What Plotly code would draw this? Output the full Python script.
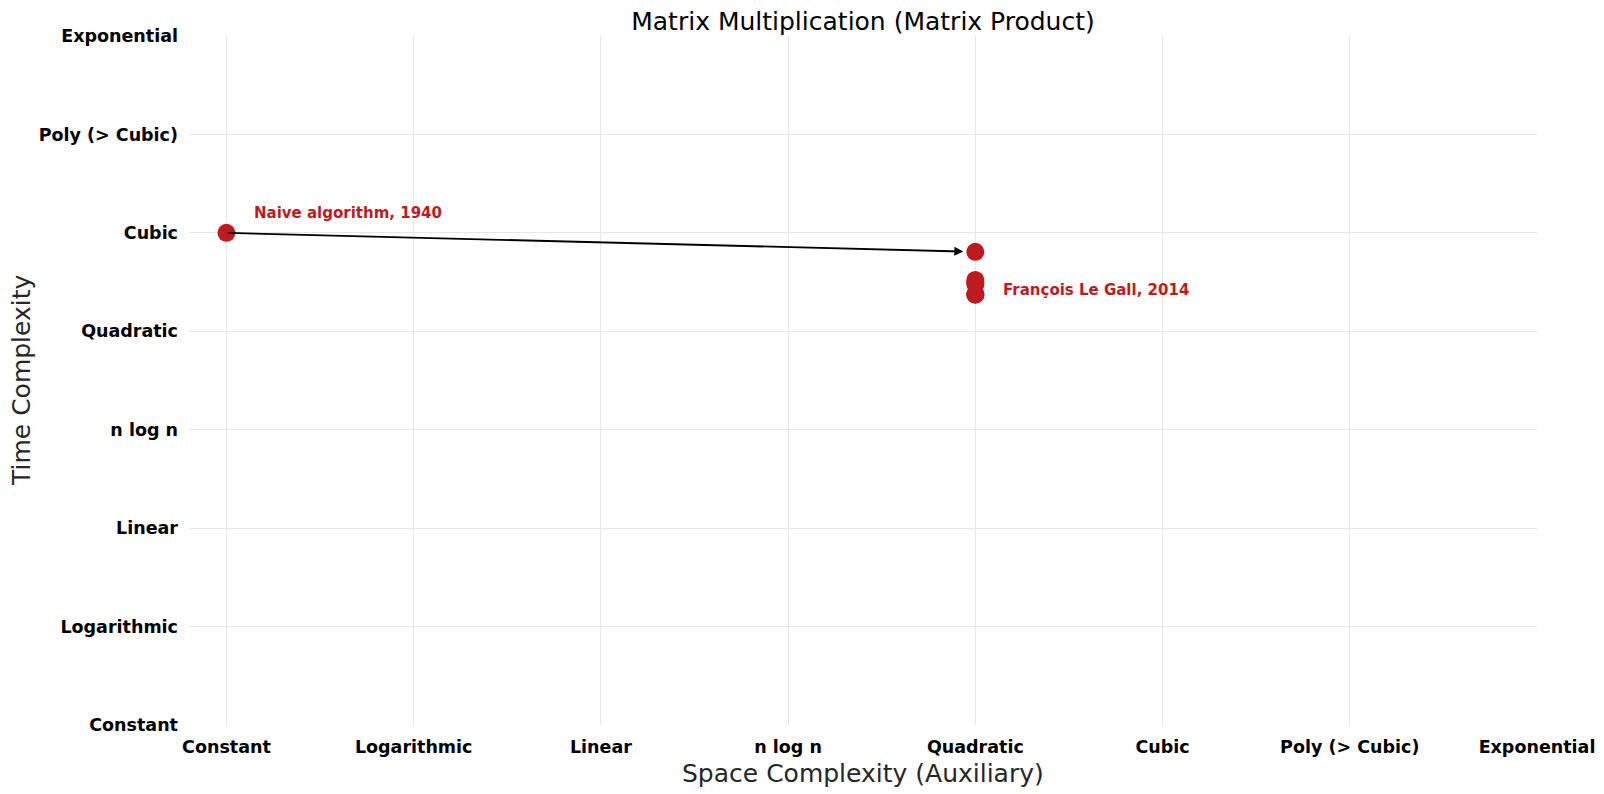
import plotly.graph_objects as go

# ---- data ----
complexity_labels = ["Constant", "Logarithmic", "Linear", "n log n",
                     "Quadratic", "Cubic", "Poly (> Cubic)", "Exponential"]
algorithms = ["Naive algorithm, 1940", "Strassen, 1969", "Schönhage, 1981",
              "Coppersmith–Winograd, 1981", "Strassen, 1986",
              "Coppersmith–Winograd, 1990", "Williams, 2012",
              "François Le Gall, 2014"]
space_level = [0, 4, 4, 4, 4, 4, 4, 4]
time_level = [5, 4.807, 4.522, 4.496, 4.479, 4.376, 4.3729, 4.3728639]
labeled = ["Naive algorithm, 1940", "François Le Gall, 2014"]

RED = "#bf1a20"
FONT = "DejaVu Sans"

fig = go.Figure()
fig.add_trace(go.Scatter(
    x=space_level, y=time_level, mode="markers",
    marker=dict(size=18, color=RED, line=dict(width=0)),
    text=algorithms, hoverinfo="text", showlegend=False,
))

# arrow from first to second algorithm
fig.add_annotation(
    x=space_level[1], y=time_level[1], ax=space_level[0], ay=time_level[0],
    xref="x", yref="y", axref="x", ayref="y",
    showarrow=True, arrowhead=2, arrowsize=1, arrowwidth=1.8,
    arrowcolor="black", standoff=12, text="",
)

# labels
idx_first = algorithms.index(labeled[0])
idx_last = algorithms.index(labeled[1])
fig.add_annotation(
    x=space_level[idx_first], y=time_level[idx_first], text=labeled[0],
    showarrow=False, xanchor="left", yanchor="middle", xshift=26, yshift=20,
    font=dict(family=FONT, size=15, color=RED, weight="bold"),
)
fig.add_annotation(
    x=space_level[idx_last], y=time_level[idx_last], text=labeled[1],
    showarrow=False, xanchor="left", yanchor="middle", xshift=26, yshift=5,
    font=dict(family=FONT, size=15, color=RED, weight="bold"),
)

# axis titles
fig.add_annotation(
    x=0.5, y=0, xref="paper", yref="paper", text="Space Complexity (Auxiliary)",
    showarrow=False, xanchor="center", yanchor="middle", yshift=-48,
    font=dict(family=FONT, size=25, color="#262626"),
)
fig.add_annotation(
    x=0, y=0.5, xref="paper", yref="paper", text="Time Complexity",
    showarrow=False, xanchor="center", yanchor="middle", xshift=-167.5,
    textangle=-90, font=dict(family=FONT, size=25, color="#262626"),
)

fig.update_layout(
    width=1596, height=786,
    margin=dict(l=181, r=67, t=27.5, b=68.5, pad=0),
    paper_bgcolor="white", plot_bgcolor="white",
    title=dict(text="Matrix Multiplication (Matrix Product)", x=0.5, xanchor="center",
               xref="paper", yref="container", y=1, yanchor="top",
               pad=dict(t=4, b=0),
               font=dict(family=FONT, size=25, color="black")),
    font=dict(family=FONT),
)
fig.update_xaxes(
    range=[-0.2, 7], tickmode="array", tickvals=list(range(8)),
    ticktext=complexity_labels, showgrid=True, gridcolor="#e6e6e6", gridwidth=1,
    zeroline=False, showline=False, ticks="", ticklabelstandoff=9,
    automargin=False,
    tickfont=dict(family=FONT, size=17.5, color="black", weight="bold"),
)
fig.update_yaxes(
    range=[0, 7], tickmode="array", tickvals=list(range(8)),
    ticktext=complexity_labels, showgrid=True, gridcolor="#e6e6e6", gridwidth=1,
    zeroline=False, showline=False, ticks="", ticklabelstandoff=10,
    automargin=False,
    tickfont=dict(family=FONT, size=17.5, color="black", weight="bold"),
)

fig.write_html("out.html")
